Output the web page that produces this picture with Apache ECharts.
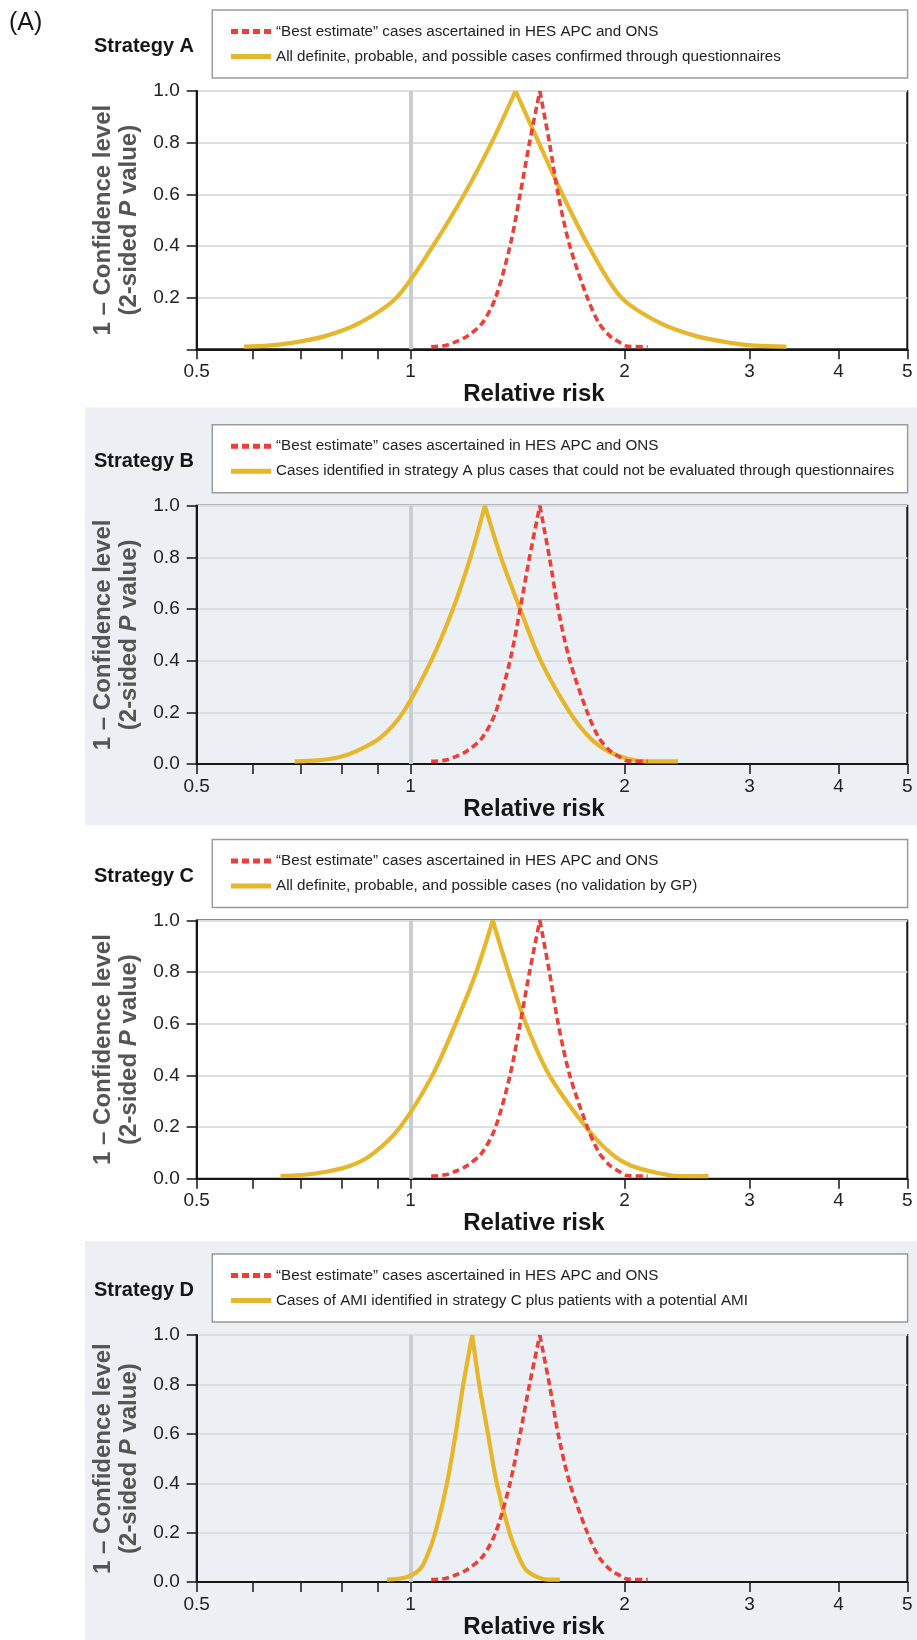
<!DOCTYPE html>
<html>
<head>
<meta charset="utf-8">
<script src="https://cdn.jsdelivr.net/npm/echarts@6/dist/echarts.min.js"></script>
<style>
html,body{margin:0;padding:0;background:#ffffff;}
#chart{width:917px;height:1640px;}
</style>
</head>
<body>
<div id="chart"></div>
<script>
// ---------------- DATA ----------------
const panelTag = '(A)';
const strategyLabels = ['Strategy A', 'Strategy B', 'Strategy C', 'Strategy D'];
const bestName = '\u201cBest estimate\u201d cases ascertained in HES APC and ONS';
const goldNames = [
  'All definite, probable, and possible cases confirmed through questionnaires',
  'Cases identified in strategy A plus cases that could not be evaluated through questionnaires',
  'All definite, probable, and possible cases (no validation by GP)',
  'Cases of AMI identified in strategy C plus patients with a potential AMI'
];
const xTickValues = [0.5, 0.6, 0.7, 0.8, 0.9, 1, 2, 3, 4, 5];
const xLabelValues = [0.5, 1, 2, 3, 4, 5];
const refRR = 1;

// "Best estimate" (same in every panel)
const bestRR = [1.069, 1.12, 1.16, 1.20, 1.26, 1.317, 1.38, 1.426, 1.47, 1.52, 1.568, 1.613, 1.675, 1.773, 1.842, 1.91, 1.96, 2.02, 2.156];
const bestP  = [0.01, 0.015, 0.03, 0.05, 0.10, 0.20, 0.40, 0.60, 0.80, 1.00, 0.80, 0.60, 0.40, 0.20, 0.10, 0.05, 0.03, 0.012, 0.01];

// Strategy A
const aRR = [0.583, 0.63, 0.681, 0.756, 0.845, 0.955, 1.075, 1.19, 1.30, 1.405, 1.515, 1.635, 1.78, 1.98, 2.25, 2.53, 2.82, 3.05, 3.38];
const aP  = [0.01, 0.014, 0.025, 0.05, 0.10, 0.20, 0.40, 0.60, 0.80, 1.00, 0.80, 0.60, 0.40, 0.20, 0.10, 0.05, 0.025, 0.014, 0.01];

// Strategy B
const bRR = [0.687, 0.74, 0.79, 0.839, 0.905, 0.976, 1.069, 1.147, 1.214, 1.272, 1.34, 1.426, 1.524, 1.675, 1.79, 1.895, 2.02, 2.15, 2.378];
const bP  = [0.01, 0.014, 0.025, 0.05, 0.10, 0.20, 0.40, 0.60, 0.80, 1.00, 0.80, 0.60, 0.40, 0.20, 0.10, 0.05, 0.02, 0.01, 0.01];

// Strategy C
const cRR = [0.656, 0.735, 0.823, 0.888, 0.967, 1.073, 1.157, 1.237, 1.305, 1.373, 1.453, 1.568, 1.765, 1.91, 2.044, 2.247, 2.4, 2.625];
const cP  = [0.01, 0.02, 0.05, 0.10, 0.20, 0.40, 0.60, 0.80, 1.00, 0.80, 0.60, 0.40, 0.20, 0.10, 0.05, 0.02, 0.01, 0.01];

// Strategy D
const dRR = [0.926, 0.986, 1.029, 1.053, 1.083, 1.125, 1.157, 1.186, 1.221, 1.249, 1.285, 1.322, 1.378, 1.421, 1.453, 1.509, 1.56, 1.622];
const dP  = [0.01, 0.02, 0.05, 0.10, 0.20, 0.40, 0.60, 0.80, 1.00, 0.80, 0.60, 0.40, 0.20, 0.10, 0.05, 0.02, 0.01, 0.01];

const goldRR = [aRR, bRR, cRR, dRR];
const goldP = [aP, bP, cP, dP];

// ---------------- STYLE / LAYOUT ----------------
const FONT = '"Liberation Sans", Arial, Helvetica, sans-serif';
const GOLD = '#e6b62c';
const RED = '#ee3e38';
const INK = '#161616';
const STEP = 414.7;
const shaded = [false, true, false, true];
const DASH_ICON = 'path://M0 0H7V5H0Z M11 0H18V5H11Z M22 0H29V5H22Z M33 0H40V5H33Z';
const SMOOTH = 0.3;

function zip(xs, ys) { return xs.map((x, i) => [x, ys[i]]); }
// split a curve at its peak into two halves (so the peak stays a sharp cusp)
function halves(xs, ys) {
  let m = 0;
  ys.forEach((y, i) => { if (y > ys[m]) m = i; });
  const pts = zip(xs, ys);
  return [pts.slice(0, m + 1), pts.slice(m)];
}

const grids = [], xAxes = [], yAxes = [], series = [], legends = [], graphics = [];

graphics.push({
  type: 'text', x: 9, y: 23, z: 5,
  style: { text: panelTag, fontFamily: FONT, fontSize: 25, fill: INK, verticalAlign: 'middle', align: 'left' }
});

for (let k = 0; k < 4; k++) {
  const T = STEP * k;
  const boxTop = 10 + T;
  if (shaded[k]) {
    const y0 = k === 1 ? 407.5 : 1241;
    const y1 = k === 1 ? 825 : 1640;
    graphics.push({ type: 'rect', z: -10, silent: true,
      shape: { x: 85, y: y0, width: 832, height: y1 - y0 },
      style: { fill: '#eceff4' } });
  }
  graphics.push({ type: 'rect', z: 1, silent: true,
    shape: { x: 212.3, y: boxTop, width: 695.3, height: 68 },
    style: { fill: '#ffffff', stroke: '#9b9b9b', lineWidth: 1.5 } });
  graphics.push({ type: 'text', z: 5, x: 94, y: boxTop + 36.7,
    style: { text: strategyLabels[k], fontFamily: FONT, fontSize: 20, fontWeight: 'bold', fill: INK, verticalAlign: 'middle', align: 'left' } });

  grids.push({ left: 196.7, right: 9.7, top: 91 + T, height: 258.3,
    show: true, borderColor: INK, borderWidth: 2, backgroundColor: 'transparent' });

  xAxes.push({
    gridIndex: k, type: 'log', logBase: 10, min: 0.5, max: 5,
    name: 'Relative risk', nameLocation: 'middle', nameGap: 22,
    nameTextStyle: { fontFamily: FONT, fontSize: 24, fontWeight: 'bold', color: INK, padding: [0, 36, 0, 0] },
    axisLine: { show: true, onZero: false, lineStyle: { color: INK, width: 2 } },
    axisTick: { show: true, customValues: xTickValues, length: 10, inside: false, lineStyle: { color: INK, width: 1.5 } },
    axisLabel: { show: true, customValues: xLabelValues, fontFamily: FONT, fontSize: 19, color: '#222', margin: 13,
      formatter: function (v) { return String(Math.round(v * 10) / 10); } },
    splitLine: { show: false }, minorTick: { show: false }, minorSplitLine: { show: false }
  });

  const isA = k === 0;
  yAxes.push({
    gridIndex: k, type: 'value', min: 0, max: 1, interval: 0.2,
    name: '{b|1 \u2013 Confidence level}\n{b|(2-sided }{bi|P}{b| value)}',
    nameLocation: 'middle', nameRotate: 90, nameGap: 50,
    nameTextStyle: {
      color: '#555555', fontFamily: FONT, fontSize: 24, fontWeight: 'bold', lineHeight: 26,
      rich: {
        b: { color: '#555555', fontFamily: FONT, fontSize: 24, fontWeight: 'bold', lineHeight: 26 },
        bi: { color: '#555555', fontFamily: FONT, fontSize: 24, fontWeight: 'bold', fontStyle: 'italic', lineHeight: 26 }
      }
    },
    axisLine: { show: true, lineStyle: { color: INK, width: 2 } },
    axisTick: { show: true, length: 10, lineStyle: { color: INK, width: 1.5 } },
    axisLabel: { fontFamily: FONT, fontSize: 19, color: '#222', margin: 17,
      formatter: function (v) { return (isA && v === 0) ? '' : v.toFixed(1); } },
    splitLine: { show: true, lineStyle: { color: '#dcdfe2', width: 2 } }
  });

  const g = halves(goldRR[k], goldP[k]);
  g.forEach(function (part) {
    series.push({
      type: 'line', name: goldNames[k], xAxisIndex: k, yAxisIndex: k,
      data: part, symbol: 'none', showSymbol: false, smooth: SMOOTH,
      lineStyle: { color: GOLD, width: 4.2 }, itemStyle: { color: GOLD }, z: 3, silent: true
    });
  });
  const r = halves(bestRR, bestP);
  r.forEach(function (part, i) {
    const s = {
      type: 'line', name: bestName, xAxisIndex: k, yAxisIndex: k,
      data: part, symbol: 'none', showSymbol: false, smooth: SMOOTH,
      lineStyle: { color: RED, width: 3.6, type: [7, 4] }, itemStyle: { color: RED }, z: 4, silent: true
    };
    if (i === 0) {
      s.markLine = {
        silent: true, z: 1, symbol: ['none', 'none'], label: { show: false },
        lineStyle: { color: '#c8cdd0', width: 4, type: 'solid' },
        emphasis: { disabled: true },
        data: [{ xAxis: refRR }]
      };
    }
    series.push(s);
  });

  legends.push({
    show: true, orient: 'vertical', left: 226, top: boxTop + 9,
    itemWidth: 40, itemHeight: 5, itemGap: 10, selectedMode: false,
    data: [{ name: bestName, icon: DASH_ICON }, { name: goldNames[k], icon: 'rect' }],
    textStyle: { fontFamily: FONT, fontSize: 15.2, color: '#222' }
  });
}

const chart = echarts.init(document.getElementById('chart'), null, { renderer: 'canvas' });
chart.setOption({
  backgroundColor: '#ffffff',
  animation: false,
  grid: grids, xAxis: xAxes, yAxis: yAxes, series: series, legend: legends,
  graphic: { elements: graphics }
});
</script>
</body>
</html>
